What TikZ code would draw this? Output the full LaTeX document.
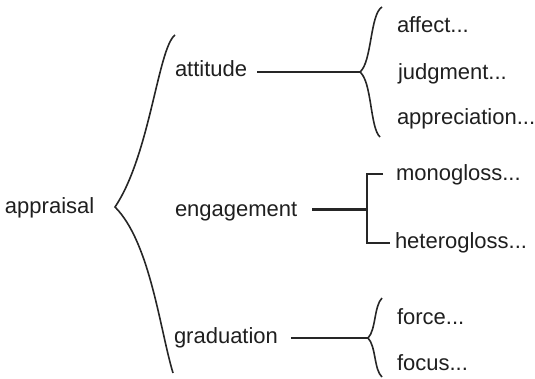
\documentclass[tikz,border=0pt]{standalone}
\usepackage{fontspec}
\setmainfont{Liberation Sans}
\begin{document}
\begin{tikzpicture}[x=1pt,y=-1pt,
  lbl/.style={anchor=base west,inner sep=0pt,outer sep=0pt,text=black!88,
              font=\fontsize{22}{26}\selectfont},
  brace/.style={draw=black!85,line width=1.6pt},
  link/.style={draw=black!85,line width=2.2pt},
  thin/.style={draw=black!85,line width=1.1pt}]
\useasboundingbox (0,0) rectangle (535,378);

% labels
\node[lbl] (appraisal) at (5,213) {appraisal};
\node[lbl] (attitude) at (175,76) {attitude};
\node[lbl] (engagement) at (175,216) {engagement};
\node[lbl] (graduation) at (174,343) {graduation};
\node[lbl] (affect) at (397,32) {affect...};
\node[lbl] (judgment) at (398,79) {judgment...};
\node[lbl] (appreciation) at (397,124) {appreciation...};
\node[lbl] (monogloss) at (396,180) {monogloss...};
\node[lbl] (heterogloss) at (395,248) {heterogloss...};
\node[lbl] (force) at (397,324) {force...};
\node[lbl] (focus) at (397,370) {focus...};

% brace tips and ends
\coordinate (mtip) at (115,207);
\coordinate (mtop) at (175,35);
\coordinate (mbot) at (173,373);
\coordinate (atip) at (360,72);
\coordinate (atop) at (382,7);
\coordinate (abot) at (380,137);
\coordinate (etip) at (367,209);
\coordinate (gtip) at (368,338);
\coordinate (gtop) at (382,298);
\coordinate (gbot) at (382,377);

% main brace
\draw[brace] (mtop) .. controls (158,48) and (150,155) .. (mtip)
             .. controls (150,242) and (160,330) .. (mbot);

% attitude branch
\draw[link] (attitude.east |- atip) ++(10,0) -- (atip);
\draw[brace] (atop) .. controls (370,14) and (372,62) .. (atip)
             .. controls (372,82) and (370,128) .. (abot);

% engagement branch
\draw[draw=black!85,line width=3pt] (engagement.east |- etip) ++(15,0) -- (etip);
\draw[thin] (383,174) -- (367,174) -- (367,243) -- (390,243);

% graduation branch
\draw[link] (graduation.east |- gtip) ++(13,0) -- (gtip);
\draw[brace] (gtop) .. controls (374,306) and (376,330) .. (gtip)
             .. controls (376,346) and (374,370) .. (gbot);
\end{tikzpicture}
\end{document}
